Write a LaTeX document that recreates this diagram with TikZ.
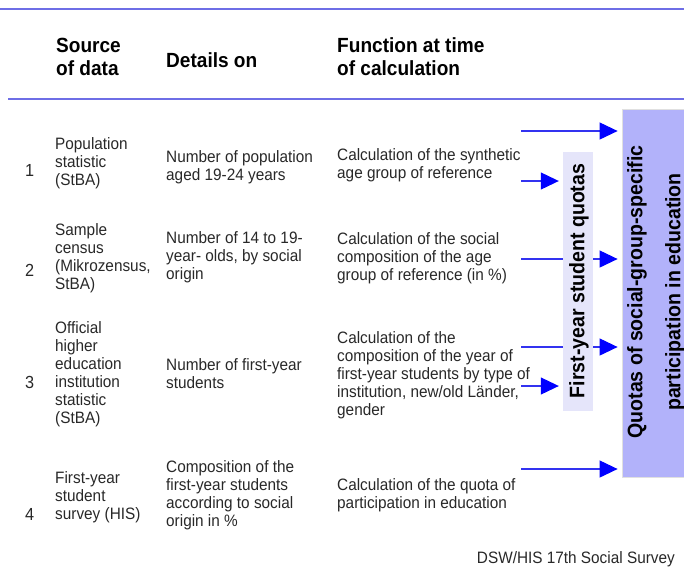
\documentclass[tikz,border=0pt]{standalone}
\usepackage{fontspec}
\setmainfont[FakeStretch=0.93]{Liberation Sans}
\usetikzlibrary{arrows.meta,backgrounds}
\definecolor{rulec}{RGB}{110,110,230}
\definecolor{arrc}{RGB}{0,0,255}
\definecolor{arrl}{RGB}{50,50,240}
\definecolor{bigc}{RGB}{178,178,250}
\definecolor{smallc}{RGB}{229,229,250}
\definecolor{txt}{RGB}{40,40,40}
\tikzset{
  body/.style={font=\fontsize{16.5}{18}\selectfont, text=txt, inner sep=0pt, align=left, anchor=base west},
  numb/.style={font=\fontsize{17.5}{18}\selectfont, text=txt, inner sep=0pt, anchor=base west},
  head/.style={font=\fontsize{20.5}{23}\selectfont\bfseries, text=black, inner sep=0pt, align=left, anchor=base west},
  vtxt/.style={font=\fontsize{21}{23}\selectfont\bfseries, text=black, inner sep=0pt, rotate=90},
  bigbox/.style={fill=bigc, draw=black!12, line width=0.8pt, minimum width=70pt, minimum height=368pt, inner sep=0pt},
  smallbox/.style={fill=smallc, draw=none, minimum width=30pt, minimum height=259pt, inner sep=0pt},
  arr/.style={color=arrl, line width=1.1pt, -{Triangle[length=18pt,width=17pt,color=arrc]}, shorten >=4pt}
}
\begin{document}
\begin{tikzpicture}[x=1pt,y=-1pt]
\useasboundingbox (0,0) rectangle (684,571);
% rules
\draw[rulec, line width=2pt] (0,9) -- (684,9);
\draw[rulec, line width=2pt] (8,99) -- (684,99);
% headers (base anchor = last line)
\node[head] (h1) at (56,75) {Source\\of data};
\node[head] (h2) at (166,67) {Details on};
\node[head] (h3) at (337,75) {Function at time\\of calculation};
% row 1
\node[numb] (n1) at (25,176) {1};
\node[body] (s1) at (55,185) {Population\\statistic\\(StBA)};
\node[body] (d1) at (166,180) {Number of population\\aged 19-24 years};
\node[body] (f1) at (337,178) {Calculation of the synthetic\\age group of reference};
% row 2
\node[numb] (n2) at (25,276) {2};
\node[body] (s2) at (55,289) {Sample\\census\\(Mikrozensus,\\StBA)};
\node[body] (d2) at (166,279) {Number of 14 to 19-\\year- olds, by social\\origin};
\node[body] (f2) at (337,280) {Calculation of the social\\composition of the age\\group of reference (in \%)};
% row 3
\node[numb] (n3) at (25,388) {3};
\node[body] (s3) at (55,423) {Official\\higher\\education\\institution\\statistic\\(StBA)};
\node[body] (d3) at (166,388) {Number of first-year\\students};
\node[body] (f3) at (337,415) {Calculation of the\\composition of the year of\\first-year students by type of\\institution, new/old Länder,\\gender};
% row 4
\node[numb] (n4) at (25,520) {4};
\node[body] (s4) at (55,519) {First-year\\student\\survey (HIS)};
\node[body] (d4) at (166,526) {Composition of the\\first-year students\\according to social\\origin in \%};
\node[body] (f4) at (337,508) {Calculation of the quota of\\participation in education};
% boxes
\node[bigbox] (Q) at (657,293) {};
\node[smallbox] (F) at (578,281.5) {};
\node[vtxt] (q1) at (637,292) {Quotas of social-group-specific};
\node[vtxt] (q2) at (675,292) {participation in education};
\node[vtxt] (fq) at (579,281) {First-year student quotas};
% arrows
\coordinate (a1) at (521,131);
\coordinate (a2) at (521,181);
\coordinate (a3) at (521,259);
\coordinate (a4) at (521,347);
\coordinate (a5) at (521,386);
\coordinate (a6) at (521,469);
\begin{scope}[on background layer]
\draw[arr] (a1) -- (a1 -| Q.west);
\draw[arr] (a2) -- (a2 -| F.west);
\draw[arr] (a3) -- (a3 -| Q.west);
\draw[arr] (a4) -- (a4 -| Q.west);
\draw[arr] (a5) -- (a5 -| F.west);
\draw[arr] (a6) -- (a6 -| Q.west);
\end{scope}
% footer
\node[body, anchor=base east] (src) at (675,563) {DSW/HIS 17th Social Survey};
\end{tikzpicture}
\end{document}
